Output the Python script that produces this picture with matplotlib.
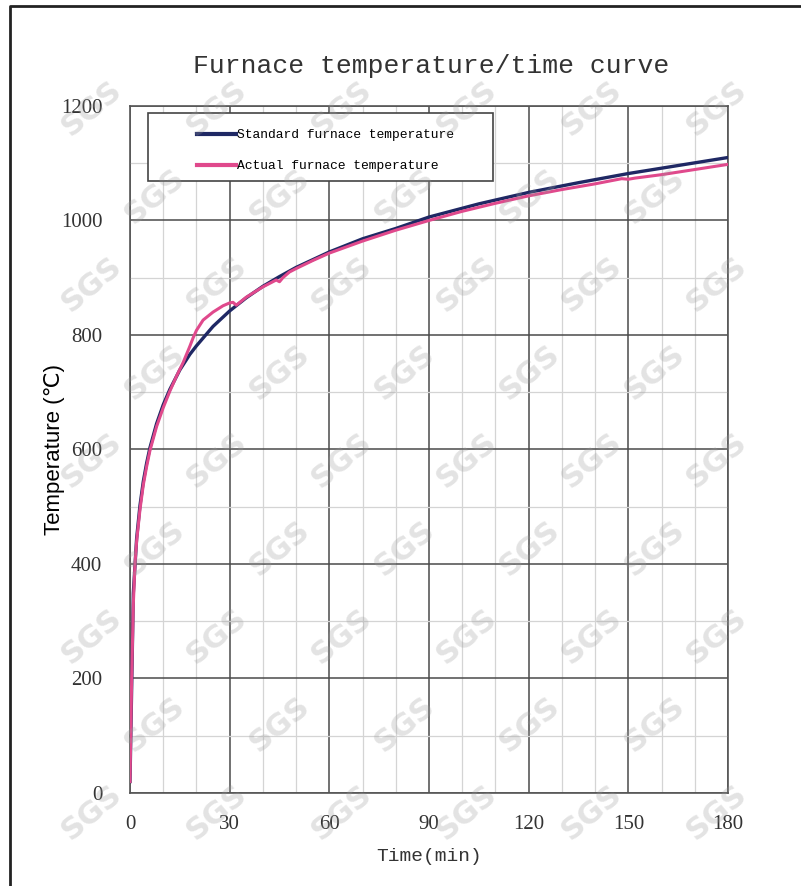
import matplotlib.pyplot as plt
from matplotlib.lines import Line2D
from matplotlib.patches import Rectangle

# standard curve (min, degC)
std_time = [0, 1, 2, 3, 4, 5, 6, 8, 10, 12, 15, 18, 20, 25, 30, 35, 40, 45, 50,
            60, 70, 80, 90, 105, 120, 135, 150, 165, 180]
std_temp = [20, 349, 445, 502, 544, 576, 603, 645, 678, 705, 739, 766, 781, 815,
            842, 865, 885, 902, 918, 945, 968, 986, 1006, 1029, 1049, 1066, 1082,
            1096, 1110]

# measured curve
act_time = [0, 0.5, 1, 1.5, 2, 3, 4, 5, 6, 8, 10, 12, 14, 16, 18, 19, 20, 22, 25,
            28, 30, 31, 32, 35, 40, 44, 45, 46, 48, 50, 55, 60, 70, 80, 90, 100,
            110, 120, 130, 140, 148, 150, 152, 160, 170, 180]
act_temp = [20, 200, 330, 400, 440, 495, 538, 570, 598, 640, 673, 702, 728, 752,
            780, 795, 808, 826, 840, 851, 856, 857, 852, 866, 884, 896, 893, 900,
            910, 916, 930, 943, 964, 983, 1000, 1016, 1030, 1043, 1054, 1064, 1073,
            1072, 1074, 1080, 1089, 1098]

x_ticks = [0, 30, 60, 90, 120, 150, 180]
y_ticks = [0, 200, 400, 600, 800, 1000, 1200]

fig = plt.figure(figsize=(8.01, 8.86), dpi=100)
fig.patch.set_facecolor('white')
ax = fig.add_axes([0.1623, 0.1050, 0.7466, 0.7754])

ax.set_xlim(0, 180)
ax.set_ylim(0, 1200)
ax.set_xticks(x_ticks)
ax.set_yticks(y_ticks)
ax.set_xticks(range(0, 181, 10), minor=True)
ax.set_yticks(range(0, 1201, 100), minor=True)
ax.grid(which='minor', color='#d4d4d4', linewidth=0.9, zorder=0)
ax.grid(which='major', color='#4a4a4a', linewidth=1.1, zorder=0)
for s in ax.spines.values():
    s.set_color('#555555')
    s.set_linewidth(1.2)
ax.tick_params(which='both', length=0)
ax.tick_params(axis='x', pad=16)
ax.tick_params(axis='y', pad=20)
for lab in ax.get_xticklabels() + ax.get_yticklabels():
    lab.set_fontfamily('Liberation Serif')
    lab.set_fontsize(15)
    lab.set_color('#333333')

ax.plot(std_time, std_temp, color='#1f2864', lw=2.4, zorder=3,
        label='Standard furnace temperature')
ax.plot(act_time, act_temp, color='#e0498c', lw=2.2, zorder=4,
        label='Actual furnace temperature')

# legend box
ax.add_patch(Rectangle((0.030, 0.891), 0.577, 0.099, transform=ax.transAxes,
                       facecolor='white', edgecolor='#444444', lw=1.2, zorder=5))
leg = ax.legend(loc='upper left', bbox_to_anchor=(0.085, 0.99), frameon=False,
                prop={'family': 'Liberation Mono', 'size': 9.4},
                handlelength=3.0, handletextpad=0.05, labelspacing=1.45,
                borderpad=0.75)
leg.set_zorder(6)
for h in leg.get_lines():
    h.set_linewidth(3)

ax.set_xlabel('Time(min)', fontfamily='Liberation Mono', fontsize=14,
              color='#333333', labelpad=10)
ax.set_ylabel('Temperature (℃)', fontfamily=['Liberation Sans', 'DejaVu Sans'],
              fontsize=16, color='black')
ax.yaxis.set_label_coords(-0.109, 0.5)

fig.text(0.538, 0.926, 'Furnace temperature/time curve', ha='center', va='center',
         fontfamily='Liberation Mono', fontsize=19, color='#333333')

# outer frame (cut at right and bottom)
fig.add_artist(Line2D([10 / 801, 10 / 801, 1.0], [0.0, 1 - 6 / 886, 1 - 6 / 886],
                      transform=fig.transFigure, color='#222222', lw=2))

# SGS watermark
for i in range(-1, 11):
    for j in range(-1, 8):
        x = (j * 125 + (i % 2) * 62 + 30) / 801
        y = 1 - (i * 88 + 20) / 886
        if not (0.06 < x < 0.94 and 0.05 < y < 0.95):
            continue
        fig.text(x, y, 'SGS', rotation=40, fontsize=22, fontweight='bold',
                 fontfamily='DejaVu Sans', color='#9a9a9a', alpha=0.28,
                 ha='center', va='center', zorder=10)

fig.savefig('out.png', dpi=100)
